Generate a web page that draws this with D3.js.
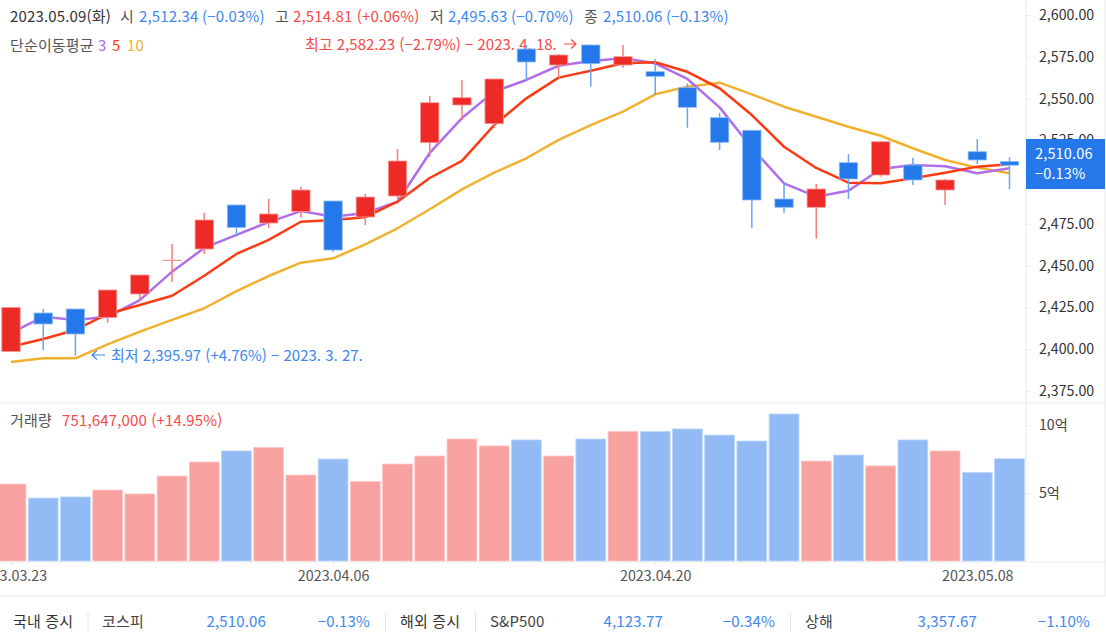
<!DOCTYPE html>
<html lang="ko"><head><meta charset="utf-8">
<style>
html,body{margin:0;padding:0;background:#fff;overflow:hidden}
svg{display:block}
text{font-family:"Noto Sans CJK KR","Noto Sans",sans-serif;font-size:15px;letter-spacing:.15px}
</style>
<script src="https://cdnjs.cloudflare.com/ajax/libs/d3/7.8.5/d3.min.js"></script>
</head><body><svg id="c" width="1106" height="641"></svg>
<script>
const dates=["2023.03.23","2023.03.24","2023.03.27","2023.03.28","2023.03.29","2023.03.30","2023.03.31","2023.04.03","2023.04.04","2023.04.05","2023.04.06","2023.04.07","2023.04.10","2023.04.11","2023.04.12","2023.04.13","2023.04.14","2023.04.17","2023.04.18","2023.04.19","2023.04.20","2023.04.21","2023.04.24","2023.04.25","2023.04.26","2023.04.27","2023.04.28","2023.05.02","2023.05.03","2023.05.04","2023.05.08","2023.05.09"];
const opens=[2398.5,2421.56,2423.95,2418.86,2432.93,2453.0,2459.88,2486.23,2475.45,2482.34,2488.62,2479.04,2491.62,2523.53,2546.11,2534.91,2579.64,2570.06,2582.04,2570.06,2566.05,2556.47,2538.5,2530.96,2489.82,2484.85,2511.56,2504.19,2510.18,2495.21,2518.14,2512.34];
const closes=[2424.85,2414.97,2408.98,2435.33,2444.31,2453.2,2477.25,2472.75,2480.84,2495.21,2459.28,2491.02,2512.57,2547.49,2550.48,2561.68,2571.86,2576.05,2570.84,2575.03,2563.29,2544.73,2523.77,2489.22,2484.85,2495.81,2501.8,2524.13,2501.2,2501.2,2513.17,2510.06];
const highs=[2425.1,2423.95,2423.95,2435.33,2444.31,2462.87,2481.44,2486.23,2489.82,2497.01,2488.62,2492.81,2519.76,2551.5,2561.08,2561.68,2582.04,2576.65,2582.23,2582.04,2573.47,2559.1,2541.5,2530.96,2499.22,2498.8,2516.77,2524.13,2514.55,2501.8,2525.75,2514.81];
const lows=[2398.2,2399.4,2395.97,2415.57,2428.74,2440.12,2456.89,2467.37,2472.46,2478.74,2458.08,2474.25,2489.82,2514.97,2537.13,2532.34,2560.66,2562.28,2557.07,2568.44,2552.1,2532.51,2519.16,2472.63,2481.62,2466.05,2489.82,2503.17,2498.2,2486.23,2510.78,2495.63];
const ma3=[2409.6,2419.3,2417.4,2419.3,2429.3,2446.3,2460.5,2468.3,2476.0,2482.6,2479.2,2481.4,2488.2,2517.4,2538.3,2554.1,2561.1,2569.6,2572.5,2574.1,2571.1,2561.7,2544.7,2520.4,2499.2,2491.2,2494.8,2507.8,2510.2,2509.4,2505.2,2508.2];
const ma5=[2401.4,2406.0,2411.4,2421.0,2426.3,2431.9,2443.9,2456.9,2465.3,2476.2,2477.2,2478.9,2488.2,2502.4,2512.6,2534.1,2550.1,2562.5,2566.6,2571.1,2571.7,2566.0,2556.1,2540.1,2521.1,2508.4,2499.6,2499.2,2502.2,2505.6,2509.2,2510.6];
const ma10=[2392.2,2394.4,2394.4,2402.8,2410.4,2417.4,2424.4,2434.7,2443.7,2451.7,2454.3,2462.7,2472.3,2483.7,2495.6,2505.6,2514.2,2525.2,2534.1,2542.1,2552.5,2557.1,2559.5,2552.5,2545.1,2539.1,2533.1,2527.7,2520.2,2513.2,2508.6,2505.2];
const volumes=[5.66,4.63,4.71,5.22,4.93,6.25,7.28,8.09,8.35,6.32,7.5,5.85,7.13,7.72,8.97,8.46,8.90,7.72,8.97,9.52,9.52,9.71,9.26,8.82,10.81,7.35,7.79,6.99,8.90,8.09,6.51,7.516];
const priceTicks=[2375,2400,2425,2450,2475,2500,2525,2550,2575,2600];
const volumeTicks=[5,10];
const dateTicks=["2023.03.23","2023.04.06","2023.04.20","2023.05.08"];
const lineSeries=[[ma10,"#f0b22e"],[ma3,"#b06ee8"],[ma5,"#fa3c14"]];

const RED="#ee2a26",BLUE="#2478ea",LRED="#f54a4a",LBLUE="#3d87ee";
const svg=d3.select("#c");
const x=d3.scalePoint().domain(dates).range([11,1009.5]);
const y=d3.scaleLinear().domain([2375,2600]).range([390.75,15]);
const yv=d3.scaleLinear().domain([0,10]).range([561,425]);
const step=x.step();
const up=i=>closes[i]>=opens[i];

const grid="#ececec";
[[1026,0,1026,562],[1105,0,1105,596],[0,403,1106,403],[0,562,1106,562],[0,596,1106,596]].forEach(l=>
 svg.append("line").attr("x1",l[0]).attr("y1",l[1]).attr("x2",l[2]).attr("y2",l[3]).attr("stroke",grid).attr("stroke-width",1.2));

// Axes
const styleAxis=(g,color,size)=>{g.select(".domain").remove();g.selectAll(".tick line").attr("stroke",grid);g.selectAll(".tick text").attr("fill",color).style("font-size",size+"px").style("letter-spacing","0");};
svg.append("g").attr("transform","translate(1026,0)").call(d3.axisRight(y).tickValues(priceTicks).tickSize(5).tickPadding(8).tickFormat(d3.format(",.2f"))).call(g=>styleAxis(g,"#333",14.2));
svg.append("g").attr("transform","translate(1026,0)").call(d3.axisRight(yv).tickValues(volumeTicks).tickSize(5).tickPadding(8).tickFormat(d=>d+"억")).call(g=>styleAxis(g,"#444",14.2));
svg.append("g").attr("transform","translate(0,562)").call(d3.axisBottom(x).tickValues(dateTicks).tickSize(4).tickPadding(5)).call(g=>styleAxis(g,"#555",14.3));

// Volume bars
svg.append("g").selectAll("rect").data(volumes).join("rect")
 .attr("x",(d,i)=>x(dates[i])-step/2+1.2).attr("width",step-2.4)
 .attr("y",d=>yv(d)).attr("height",d=>yv(0)-yv(d))
 .attr("fill",(d,i)=>up(i)?"#f8a1a1":"#92bbf6")
 .attr("stroke",(d,i)=>up(i)?"#fcc6c6":"#bcd6fa").attr("stroke-width",.8);

// Annotations (beneath the candles)
const txt=(s,px,py,col,anchor)=>svg.append("text").attr("x",px).attr("y",py).attr("fill",col).attr("text-anchor",anchor||"start").text(s);
txt("최고 2,582.23 (−2.79%) − 2023. 4. 18.",305,49.5,LRED).style("letter-spacing","0");
svg.append("path").attr("d","M564 44H576M571 39.5L576 44L571 48.5").attr("fill","none").attr("stroke",LRED).attr("stroke-width",1.2);
txt("최저 2,395.97 (+4.76%) − 2023. 3. 27.",111,360.5,LBLUE).style("letter-spacing","0");
svg.append("path").attr("d","M105 355H92M97 350.5L92 355L97 359.5").attr("fill","none").attr("stroke",LBLUE).attr("stroke-width",1.2);

// Moving averages
const line=d3.line().x((d,i)=>x(dates[i])).y(d=>y(d));
svg.append("g").selectAll("path").data(lineSeries).join("path")
 .attr("d",d=>line(d[0])).attr("fill","none").attr("stroke",d=>d[1]).attr("stroke-width",2.5).attr("stroke-linejoin","round");

// Candles
const bw=step*.57;
const cg=svg.append("g");
cg.selectAll("line").data(dates).join("line")
 .attr("x1",d=>x(d)).attr("x2",d=>x(d))
 .attr("y1",(d,i)=>y(highs[i])).attr("y2",(d,i)=>y(lows[i]))
 .attr("stroke",(d,i)=>up(i)?"#f47c7c":"#6ba4f2").attr("stroke-width",1.5);
cg.selectAll("rect").data(dates).join("rect")
 .attr("x",d=>x(d)-bw/2).attr("width",bw)
 .attr("y",(d,i)=>y(Math.max(opens[i],closes[i])))
 .attr("height",(d,i)=>Math.max(.4,Math.abs(y(opens[i])-y(closes[i]))))
 .attr("fill",(d,i)=>up(i)?RED:BLUE)
 .attr("stroke",(d,i)=>up(i)?"#f79a98":"#8fbcf5").attr("stroke-width",.8);

// Current price tag
svg.append("rect").attr("x",1026).attr("y",139).attr("width",79).attr("height",50).attr("fill",BLUE);
txt("2,510.06",1035,159,"#fff").style("font-size","14.5px");
txt("−0.13%",1035,179,"#fff").style("font-size","14.5px");

// Header
const h=[["2023.05.09(화)",10,"#333"],["시",120,"#555"],["2,512.34 (−0.03%)",139,LBLUE],["고",275,"#555"],["2,514.81 (+0.06%)",293,LRED],["저",430,"#555"],["2,495.63 (−0.70%)",448,LBLUE],["종",584,"#555"],["2,510.06 (−0.13%)",603,LBLUE]];
h.forEach(r=>txt(r[0],r[1],21.5,r[2]));
txt("단순이동평균",10,50.5,"#555");txt("3",98,50.5,"#b06ee8");txt("5",112,50.5,"#fa3c14");txt("10",127,50.5,"#f0b22e");
txt("거래량",10,426,"#555");txt("751,647,000 (+14.95%)",62,426,LRED);

// Bottom ticker
const bw1=[["국내 증시",13,"#333"],["코스피",102,"#444"],["해외 증시",400,"#333"],["S&P500",490,"#444"],["상해",805,"#444"]];
bw1.forEach(r=>txt(r[0],r[1],627,r[2]));
[["2,510.06",266],["−0.13%",370],["4,123.77",663],["−0.34%",775],["3,357.67",977],["−1.10%",1090]].forEach(r=>txt(r[0],r[1],627,LBLUE,"end"));
[88,385.5,475.5,790.5].forEach(p=>svg.append("line").attr("x1",p).attr("x2",p).attr("y1",612).attr("y2",632).attr("stroke","#e4e4e4"));
</script></body></html>
